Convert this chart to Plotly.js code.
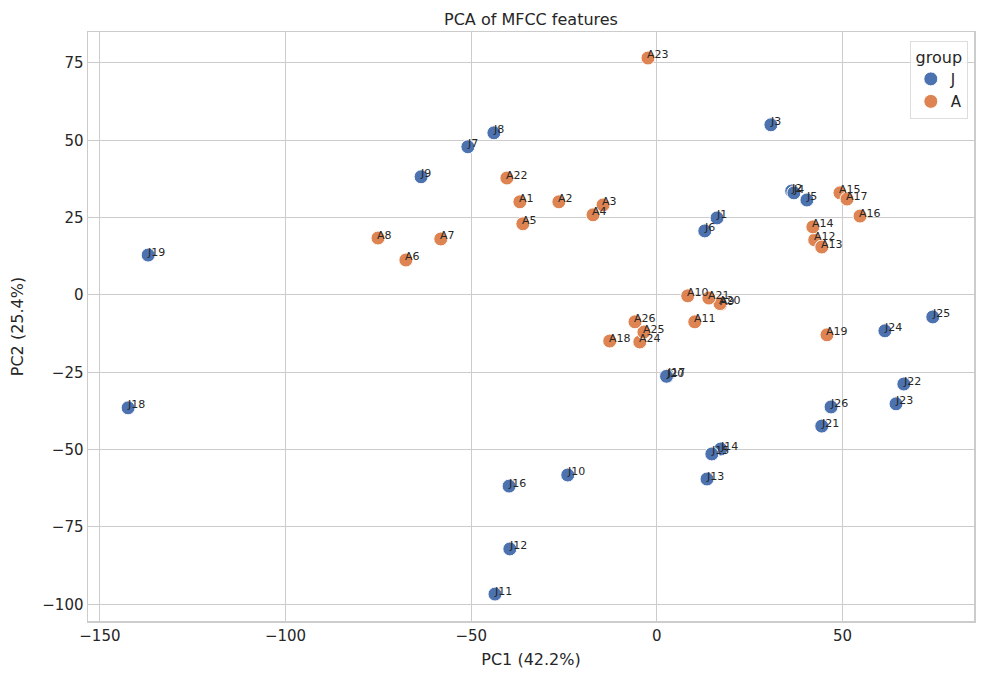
<!DOCTYPE html>
<html>
<head>
<meta charset="utf-8">
<script src="https://cdn.plot.ly/plotly-3.0.1.min.js"></script>
<style>html,body{margin:0;padding:0;background:#fff;}#chart{width:984px;height:684px;}</style>
</head>
<body>
<div id="chart"></div>
<script>
const jLabels = ["J1","J2","J3","J4","J5","J6","J7","J8","J9","J10","J11","J12","J13","J14","J15","J16","J17","J18","J19","J20","J21","J22","J23","J24","J25","J26"];
const jX = [16.2,36.3,30.7,36.9,40.4,12.9,-50.9,-43.9,-63.5,-24.0,-43.6,-39.6,13.5,17.2,14.8,-39.8,2.9,-142.4,-137.0,2.6,44.4,66.5,64.4,61.4,74.3,46.9];
const jY = [24.9,33.6,55.0,33.0,30.7,20.7,47.9,52.4,38.2,-58.2,-96.7,-82.1,-59.5,-49.8,-51.4,-61.8,-26.1,-36.5,12.9,-26.3,-42.4,-28.8,-35.2,-11.6,-7.1,-36.2];
const aLabels = ["A1","A2","A3","A4","A5","A6","A7","A8","A9","A10","A11","A12","A13","A14","A15","A16","A17","A18","A19","A20","A21","A22","A23","A24","A25","A26"];
const aX = [-36.9,-26.4,-14.5,-17.2,-36.1,-67.6,-58.2,-75.1,17.2,8.3,10.2,42.5,44.4,42.0,49.3,54.7,51.2,-12.7,45.8,17.0,14.0,-40.4,-2.4,-4.6,-3.5,-5.9];
const aY = [30.1,30.1,29.1,25.9,23.0,11.3,18.1,18.4,-3.0,-0.3,-8.7,17.8,15.5,22.0,33.0,25.5,31.0,-14.9,-12.9,-2.8,-1.0,37.8,76.6,-15.2,-12.0,-8.7];
const xTicks = [-150,-100,-50,0,50];
const yTicks = [-100,-75,-50,-25,0,25,50,75];

const txt = '#262626';
const font = 'DejaVu Sans, sans-serif';
const mk = (c) => ({size: 14, color: c, line: {color: '#ffffff', width: 1}});
const traces = [
  {type:'scatter', mode:'markers', name:'J', x:jX, y:jY, marker:mk('#4c72b0'), hoverinfo:'skip'},
  {type:'scatter', mode:'markers', name:'A', x:aX, y:aY, marker:mk('#dd8452'), hoverinfo:'skip'}
];
const allX = jX.concat(aX), allY = jY.concat(aY), allL = jLabels.concat(aLabels);
const annotations = allL.map((t, i) => ({
  x: allX[i], y: allY[i], xref:'x', yref:'y', text: t, showarrow:false,
  xanchor:'left', yanchor:'middle', xshift:-2, yshift:3, borderpad:0,
  font:{family:font, size:11, color:txt}
}));
const ax = {
  showgrid:true, gridcolor:'#cccccc', gridwidth:1, zeroline:false,
  showline:true, mirror:true, linecolor:'#cccccc', linewidth:1.5,
  ticks:'', tickfont:{family:font, size:15, color:txt}, ticklen:0
};
const layout = {
  width:984, height:684,
  margin:{l:88, r:10, t:32, b:63},
  paper_bgcolor:'#ffffff', plot_bgcolor:'#ffffff',
  font:{family:font, color:txt},
  title:{text:'PCA of MFCC features', font:{family:font, size:16, color:txt}, x:0.5, xref:'paper', y:0.972, yanchor:'middle'},
  xaxis:Object.assign({}, ax, {range:[-153.2,85.4], tickvals:xTicks, title:{text:'PC1 (42.2%)', font:{family:font, size:16, color:txt}, standoff:10}}),
  yaxis:Object.assign({}, ax, {range:[-105.4,85.0], tickvals:yTicks, title:{text:'PC2 (25.4%)', font:{family:font, size:16, color:txt}, standoff:14}}),
  annotations: annotations,
  legend:{x:0.993, xanchor:'right', y:0.985, yanchor:'top', bgcolor:'rgba(255,255,255,0.8)', bordercolor:'#dddddd', borderwidth:1,
    title:{text:'group', font:{family:font, size:16, color:txt}, side:'top center'}, font:{family:font, size:15, color:txt}}
};
Plotly.newPlot('chart', traces, layout, {displayModeBar:false, staticPlot:true});
</script>
</body>
</html>
